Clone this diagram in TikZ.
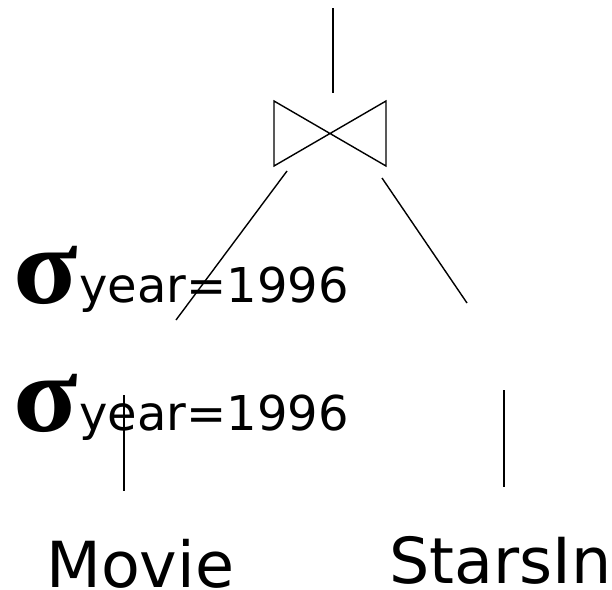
\documentclass[tikz,border=0pt]{standalone}
\usepackage{fontspec}
\setmainfont{DejaVu Sans}
\newfontfamily\sigmafont{Liberation Serif}
\begin{document}
\begin{tikzpicture}[x=1pt,y=-1pt,
  edge/.style={line width=1.4pt,black},
  sig/.style={inner sep=0pt,anchor=base west,font=\sigmafont\bfseries\fontsize{110}{110}\selectfont},
  cond/.style={inner sep=0pt,anchor=base west,font=\fontsize{48}{48}\selectfont},
  rel/.style={inner sep=0pt,anchor=base west,font=\fontsize{63.5}{63.5}\selectfont}]
\useasboundingbox (0,0) rectangle (612,589);
% join symbol
\coordinate (top) at (333,8);
\coordinate (jtop) at (333,93);
\coordinate (jtl) at (274,101);
\coordinate (jbl) at (274,166);
\coordinate (jtr) at (386,101);
\coordinate (jbr) at (386,166);
\draw[edge] (top) -- (jtop);
\draw[edge,line join=miter] (jtl) -- (jbr) -- (jtr) -- (jbl) -- cycle;
% branches
\coordinate (l1) at (287,171);
\coordinate (l2) at (176,320);
\coordinate (r1) at (382,178);
\coordinate (r2) at (467,303);
\draw[edge] (l1) -- (l2);
\draw[edge] (r1) -- (r2);
% selections
\node[sig,xscale=1.08] (s1) at (13,303) {σ};
\node[cond] (c1) at (79,302) {year=1996};
\node[sig,xscale=1.08] (s2) at (13,431) {σ};
\node[cond] (c2) at (79,430) {year=1996};
% verticals
\coordinate (v1) at (124,395);
\coordinate (v2) at (124,491);
\coordinate (w1) at (504,390);
\coordinate (w2) at (504,487);
\draw[edge] (v1) -- (v2);
\draw[edge] (w1) -- (w2);
% relations
\node[rel] (movie) at (46,587) {Movie};
\node[rel] (stars) at (389,583) {StarsIn};
\end{tikzpicture}
\end{document}
